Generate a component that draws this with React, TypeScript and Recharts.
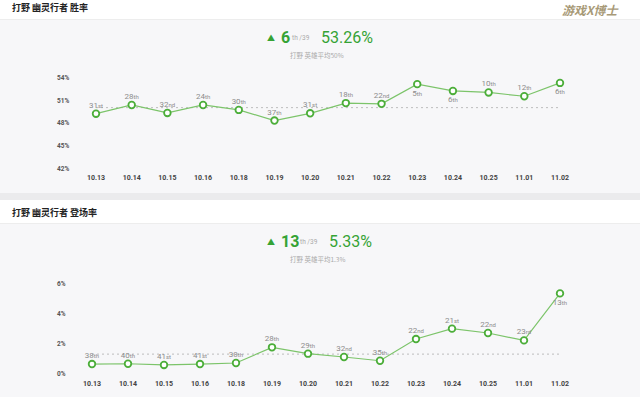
import React from 'react';
import { LineChart, Line, XAxis, YAxis, LabelList } from 'recharts';

const categories = ['10.13', '10.14', '10.15', '10.16', '10.18', '10.19', '10.20', '10.21', '10.22', '10.23', '10.24', '10.25', '11.01', '11.02'];

const winRate = [49.2, 50.35, 49.3, 50.35, 49.7, 48.3, 49.25, 50.6, 50.5, 53.1, 52.2, 52.0, 51.5, 53.26];
const winRank = ['31st', '28th', '32nd', '24th', '30th', '37th', '31st', '18th', '22nd', '5th', '6th', '10th', '12th', '6th'];
const winAvg = 50;
const winTicks = [42, 45, 48, 51, 54];

const pickRate = [0.64, 0.66, 0.58, 0.64, 0.71, 1.75, 1.33, 1.11, 0.86, 2.3, 2.99, 2.7, 2.21, 5.33];
const pickRank = ['38th', '40th', '41st', '41st', '38th', '28th', '29th', '32nd', '35th', '22nd', '21st', '22nd', '23rd', '13th'];
const pickAvg = 1.3;
const pickTicks = [0, 2, 4, 6];

const winLabelBelow = [9, 10, 13];
const pickLabelBelow = [13];

const winData = categories.map((c, i) => ({ cat: c, v: winRate[i], avg: winAvg }));
const pickData = categories.map((c, i) => ({ cat: c, v: pickRate[i], avg: pickAvg }));

const GREEN = '#35a335';
const LINE = '#7cc46a';
const DOT = '#4cae3a';
const NUM_FONT = 'Roboto, "Noto Sans", sans-serif';
const CJK_FONT = '"Noto Sans CJK SC", "Noto Sans", sans-serif';

const makeRankLabel = (ranks: string[], below: number[]) => (props: any) => {
  const { x, y, index } = props;
  const r = ranks[index] || '';
  const m = r.match(/^(\d+)(\D*)$/) || [r, r, ''];
  const isBelow = below.includes(index);
  return (
    <text
      x={x}
      y={isBelow ? y + 11.5 : y - 6}
      textAnchor="middle"
      fill="#8c8c8c"
      fontSize={8}
      fontFamily={NUM_FONT}
    >
      <tspan>{m[1]}</tspan>
      <tspan fontSize={6}>{m[2]}</tspan>
    </text>
  );
};

const YTick = (props: any) => {
  const { y, payload } = props;
  return (
    <text x={57} y={y} dy={2.5} fontSize={6.5} fill="#555" fontWeight="bold" fontFamily={NUM_FONT}>
      {payload.value}%
    </text>
  );
};

const XTick = (props: any) => {
  const { x, y, payload } = props;
  return (
    <text x={x} y={y + 12} textAnchor="middle" fontSize={7} fill="#444" fontWeight="bold" fontFamily={NUM_FONT}>
      {payload.value}
    </text>
  );
};

type ChartProps = {
  data: any[];
  ticks: number[];
  ranks: string[];
  below: number[];
  top: number;
  height: number;
  marginTop: number;
  marginBottom: number;
  plotLeft: number;
};

const TrendChart = ({ data, ticks, ranks, below, top, height, marginTop, marginBottom, plotLeft }: ChartProps) => (
  <div style={{ position: 'absolute', left: 0, top, width: 640, height }}>
    <LineChart width={640} height={height} data={data} margin={{ top: marginTop, right: 64, bottom: marginBottom, left: 0 }}>
      <XAxis
        dataKey="cat"
        axisLine={false}
        tickLine={false}
        tickSize={0}
        tickMargin={0}
        height={20}
        interval={0}
        padding={{ left: 16, right: 16 }}
        tick={<XTick />}
      />
      <YAxis
        width={plotLeft - 16}
        domain={[ticks[0], ticks[ticks.length - 1]]}
        ticks={ticks}
        interval={0}
        axisLine={false}
        tickLine={false}
        tick={<YTick />}
      />
      <Line
        dataKey="avg"
        stroke="#bdbdbd"
        strokeWidth={1}
        strokeDasharray="2 3"
        dot={false}
        isAnimationActive={false}
      />
      <Line
        dataKey="v"
        stroke={LINE}
        strokeWidth={1.2}
        dot={{ r: 3.3, stroke: DOT, strokeWidth: 1.8, fill: '#ffffff' }}
        isAnimationActive={false}
      >
        <LabelList dataKey="v" content={makeRankLabel(ranks, below)} />
      </Line>
    </LineChart>
  </div>
);

const Stat = ({ top, rank, value, sub, valueLeft }: { top: number; rank: string; value: string; sub: string; valueLeft: number }) => (
  <>
    <div style={{ position: 'absolute', left: 267, top: top - 5, fontSize: 8, lineHeight: '10px', color: GREEN }}>▲</div>
    <div
      style={{
        position: 'absolute',
        left: 281,
        top: top - 9,
        fontSize: 16,
        lineHeight: '18px',
        fontWeight: 'bold',
        color: GREEN,
        fontFamily: NUM_FONT,
      }}
    >
      {rank}
    </div>
    <div
      style={{
        position: 'absolute',
        left: rank.length > 1 ? 300 : 292,
        top: top - 4,
        fontSize: 6.5,
        lineHeight: '9px',
        color: '#aaaaaa',
        fontFamily: NUM_FONT,
      }}
    >
      th /39
    </div>
    <div
      style={{
        position: 'absolute',
        left: valueLeft,
        top: top - 9,
        fontSize: 16,
        lineHeight: '18px',
        color: GREEN,
        fontFamily: NUM_FONT,
      }}
    >
      {value}
    </div>
    <div
      style={{
        position: 'absolute',
        left: 290,
        top: top + 13,
        fontSize: 6.5,
        lineHeight: '9px',
        color: '#aaaaaa',
        fontFamily: CJK_FONT,
      }}
    >
      {sub}
    </div>
  </>
);

export default function App() {
  return (
    <div
      style={{
        position: 'absolute',
        left: 0,
        top: 0,
        width: 640,
        height: 397,
        overflow: 'hidden',
        background: '#f7f7f9',
        fontFamily: CJK_FONT,
      }}
    >
      <div style={{ position: 'absolute', left: 0, top: 0, width: 640, height: 19, background: '#ffffff', borderBottom: '1px solid #ededed' }} />
      <div style={{ position: 'absolute', left: 12, top: 2, fontSize: 9, lineHeight: '12px', fontWeight: 'bold', color: '#222' }}>
        打野 幽灵行者 胜率
      </div>
      <div
        style={{
          position: 'absolute',
          left: 562,
          top: 3,
          fontSize: 12,
          lineHeight: '14px',
          fontWeight: 'bold',
          fontStyle: 'italic',
          color: '#a89a78',
        }}
      >
        游戏X博士
      </div>

      <div style={{ position: 'absolute', left: 0, top: 193, width: 640, height: 7, background: '#ebebed' }} />
      <div style={{ position: 'absolute', left: 0, top: 200, width: 640, height: 23, background: '#ffffff', borderBottom: '1px solid #ededed' }} />
      <div style={{ position: 'absolute', left: 12, top: 207, fontSize: 9, lineHeight: '12px', fontWeight: 'bold', color: '#222' }}>
        打野 幽灵行者 登场率
      </div>

      <Stat top={38} rank="6" value="53.26%" sub="打野 英雄平均50%" valueLeft={321} />
      <Stat top={242} rank="13" value="5.33%" sub="打野 英雄平均1.3%" valueLeft={329} />

      <TrendChart
        data={winData}
        ticks={winTicks}
        ranks={winRank}
        below={winLabelBelow}
        top={64}
        height={126}
        marginTop={13.3}
        marginBottom={1.7}
        plotLeft={96}
      />
      <TrendChart
        data={pickData}
        ticks={pickTicks}
        ranks={pickRank}
        below={pickLabelBelow}
        top={270}
        height={127}
        marginTop={13.3}
        marginBottom={3.3}
        plotLeft={92}
      />
    </div>
  );
}
